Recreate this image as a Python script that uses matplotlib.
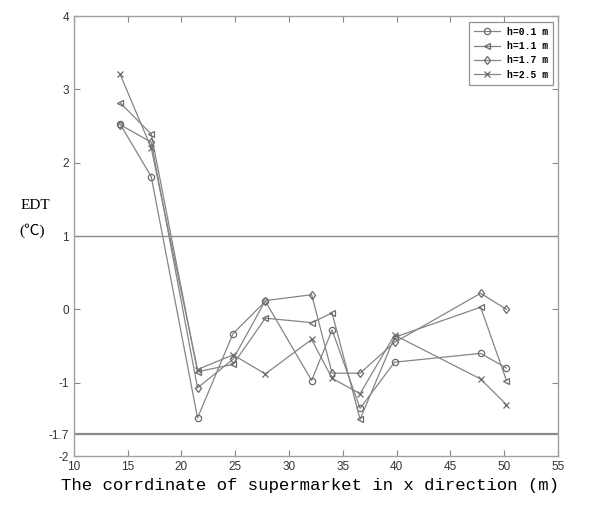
import matplotlib.pyplot as plt

# EDT measured along the x direction, one series per measuring height
x = [14.3, 17.2, 21.5, 24.8, 27.8, 32.1, 34.0, 36.6, 39.8, 47.8, 50.2]
edt_01 = [2.53, 1.81, -1.48, -0.33, 0.11, -0.97, -0.28, -1.35, -0.72, -0.60, -0.80]
edt_11 = [2.82, 2.39, -0.85, -0.75, -0.12, -0.18, -0.05, -1.50, -0.38, 0.03, -0.97]
edt_17 = [2.52, 2.28, -1.07, -0.68, 0.12, 0.20, -0.87, -0.87, -0.45, 0.22, 0.00]
edt_25 = [3.21, 2.20, -0.82, -0.62, -0.88, -0.41, -0.94, -1.15, -0.35, -0.95, -1.30]
labels = ["h=0.1 m", "h=1.1 m", "h=1.7 m", "h=2.5 m"]
markers = ["o", "<", "d", "x"]

yticks = [4, 3, 2, 1, 0, -1, -1.7, -2]
xticks = [10, 15, 20, 25, 30, 35, 40, 45, 50, 55]
limits = [1, -1.7]

grey = "#858585"

fig = plt.figure(figsize=(5.9, 5.2), dpi=100)
ax = fig.add_axes([0.125, 0.123, 0.821, 0.846])

for y, lab, m in zip([edt_01, edt_11, edt_17, edt_25], labels, markers):
    ax.plot(x, y, color=grey, lw=0.9, marker=m, ms=4.5,
            mfc="none", mec="#6a6a6a", mew=0.9, label=lab)

# comfort limits
ax.axhline(limits[0], color="#8a8a8a", lw=1.0)
ax.axhline(limits[1], color="#8a8a8a", lw=1.6)

ax.set_xlim(10, 55)
ax.set_ylim(-2, 4)
ax.set_xticks(xticks)
ax.set_yticks(yticks)
ax.set_yticklabels([f"{t:g}" for t in yticks])
ax.tick_params(direction="in", length=4, width=0.8, color="#888888",
               labelsize=8.5, labelcolor="#333333", top=True, right=True,
               labeltop=False, labelright=False)
for lbl in ax.get_xticklabels() + ax.get_yticklabels():
    lbl.set_family("Liberation Sans")
for s in ax.spines.values():
    s.set_color("#a0a0a0")
    s.set_linewidth(1.0)

leg = ax.legend(loc="upper right", bbox_to_anchor=(1.0, 0.998),
                fancybox=False, edgecolor="#909090", framealpha=1,
                prop={"family": "Liberation Mono", "size": 7, "weight": "bold"},
                handlelength=2.6, borderpad=0.5, labelspacing=0.45)
leg.get_frame().set_linewidth(0.9)

fig.text(0.06, 0.605, "EDT", ha="center", va="center",
         family="Liberation Serif", fontsize=11)
fig.text(0.055, 0.557, "(℃)", ha="center", va="center",
         family=["Liberation Serif", "Noto Sans CJK SC"], fontsize=11)
fig.text(0.525, 0.067, "The corrdinate of supermarket in x direction (m)",
         ha="center", va="center", family="Liberation Mono", fontsize=12.5)

plt.savefig("out.png", dpi=100)
